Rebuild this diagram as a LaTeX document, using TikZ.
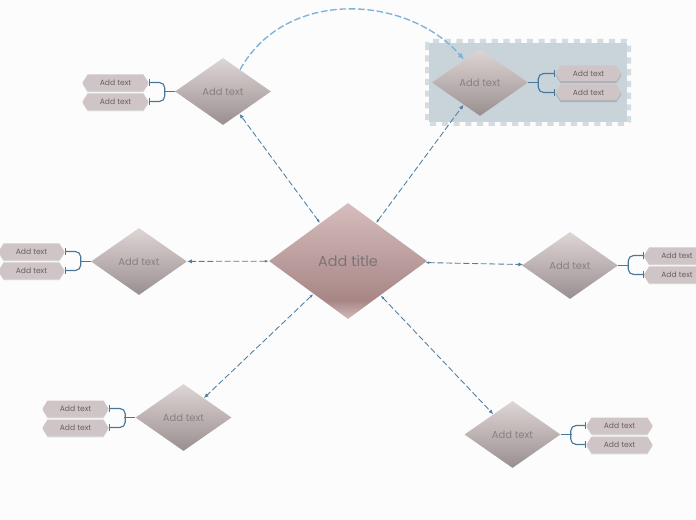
\documentclass[tikz,border=0pt]{standalone}
\usepackage{xcolor}
\usepackage{fontspec}
\setmainfont{Poppins}
\usetikzlibrary{shapes.geometric,shapes.symbols,arrows.meta,shadows}
\definecolor{linkblue}{HTML}{4F7FA3}
\definecolor{branchblue}{HTML}{47779B}
\definecolor{curveblue}{HTML}{7DB1D6}
\definecolor{labelgrey}{HTML}{8A8083}
\definecolor{tagfill}{HTML}{CFC5C6}
\definecolor{regionfill}{HTML}{C9D4DA}
\definecolor{regionedge}{HTML}{D3DCE1}
\definecolor{titlelight}{HTML}{D3B9B9}
\definecolor{titledark}{HTML}{A88686}
\definecolor{titletop}{HTML}{D6BDBD}
\definecolor{topicdark}{HTML}{9A8F90}
\definecolor{topiclight}{HTML}{DED5D5}
\pgfdeclareverticalshading{titleshade}{100bp}{color(0bp)=(titlelight);color(25bp)=(titlelight);color(33bp)=(titledark);color(75bp)=(titletop);color(100bp)=(titletop)}
\pgfdeclareverticalshading{topicshade}{100bp}{color(0bp)=(topicdark);color(25bp)=(topicdark);color(75bp)=(topiclight);color(100bp)=(topiclight)}
\tikzset{
    x=0.75pt, y=-0.75pt,
    titlebox/.style={diamond, aspect=1.36, inner sep=0pt, minimum width=118.5pt, minimum height=87pt, shading=titleshade, text=labelgrey!90!black, font=\fontsize{10.8}{13}\selectfont},
    topicbox/.style={diamond, aspect=1.43, inner sep=0pt, minimum width=72pt, minimum height=50.25pt, shading=topicshade, text=labelgrey, font=\fontsize{7.5}{9}\selectfont},
    tagbox/.style={signal, signal to=west and east, signal pointer angle=115, inner sep=0pt, minimum width=49.5pt, minimum height=12pt, fill=tagfill, text=labelgrey!75!black, font=\fontsize{5.7}{7}\selectfont,
        drop shadow={shadow xshift=0pt, shadow yshift=-1.5pt, opacity=0.08, fill=black},
        drop shadow={shadow xshift=0pt, shadow yshift=-0.8pt, opacity=0.12, fill=black}},
    link/.style={draw=linkblue, line width=0.65pt, dash pattern=on 4.5pt off 2pt, {Latex[length=3pt,width=2pt]}-{Latex[length=3.5pt,width=3pt]}},
    branch/.style={draw=branchblue, line width=0.85pt, rounded corners=4pt, -{Bar[width=5pt]}},
    stem/.style={draw=branchblue, line width=1.2pt},
}
\begin{document}
\begin{tikzpicture}
    \useasboundingbox (0, 0) rectangle (696, 520);
    \fill[white!99!black] (0, 0) rectangle (696, 520);

    % highlighted area behind the upper right topic
    \fill[regionfill] (429, 43) rectangle (627, 122);
    \draw[draw=regionedge, line width=3pt, dash pattern=on 4.6pt off 4.2pt, rounded corners=2pt] (427, 41) rectangle (629, 124);

    \node[titlebox] (title) at (348, 261) {Add title};

    \node[topicbox] (topicA) at (223, 91.5) {Add text};
    \node[topicbox] (topicB) at (480, 82.5) {Add text};
    \node[topicbox] (topicC) at (139, 261.5) {Add text};
    \node[topicbox] (topicD) at (570, 265.5) {Add text};
    \node[topicbox] (topicE) at (183.5, 417.5) {Add text};
    \node[topicbox] (topicF) at (512.5, 434.5) {Add text};

    \node[tagbox] (tagA1) at (115.5, 82.5) {Add text};
    \node[tagbox] (tagA2) at (115.5, 101.5) {Add text};
    \node[tagbox] (tagB1) at (588.5, 73.5) {Add text};
    \node[tagbox] (tagB2) at (588.5, 92.5) {Add text};
    \node[tagbox] (tagC1) at (31.5, 251.5) {Add text};
    \node[tagbox] (tagC2) at (31.5, 270.5) {Add text};
    \node[tagbox] (tagD1) at (677, 255.5) {Add text};
    \node[tagbox] (tagD2) at (677, 274.5) {Add text};
    \node[tagbox] (tagE1) at (75.5, 408.5) {Add text};
    \node[tagbox] (tagE2) at (75.5, 427.5) {Add text};
    \node[tagbox] (tagF1) at (619.5, 425.5) {Add text};
    \node[tagbox] (tagF2) at (619.5, 444.5) {Add text};

    % links from the title
    \draw[link] (title) -- (topicA);
    \draw[link] (title) -- (topicB);
    \draw[link] (title) -- (topicC);
    \draw[link] (title) -- (topicD);
    \draw[link] (title) -- (topicE);
    \draw[link] (title) -- (topicF);

    \draw[draw=curveblue, line width=1pt, dash pattern=on 5pt off 2pt, -{Latex[length=5pt,width=4pt]}] (topicA.52) .. controls (286, -13) and (408, -5) .. (topicB.125);

    % brackets on the left side
    \foreach \topic/\tagname in {topicA/tagA, topicC/tagC, topicE/tagE} {
        \draw[stem] (\topic.west) -- ++(-11, 0);
        \draw[branch] (\topic.west) ++(-10, 0) |- (\tagname1.east);
        \draw[branch] (\topic.west) ++(-10, 0) |- (\tagname2.east);
    }
    % brackets on the right side
    \foreach \topic/\tagname in {topicB/tagB, topicD/tagD, topicF/tagF} {
        \draw[stem] (\topic.east) -- ++(11, 0);
        \draw[branch] (\topic.east) ++(10, 0) |- (\tagname1.west);
        \draw[branch] (\topic.east) ++(10, 0) |- (\tagname2.west);
    }
\end{tikzpicture}
\end{document}
